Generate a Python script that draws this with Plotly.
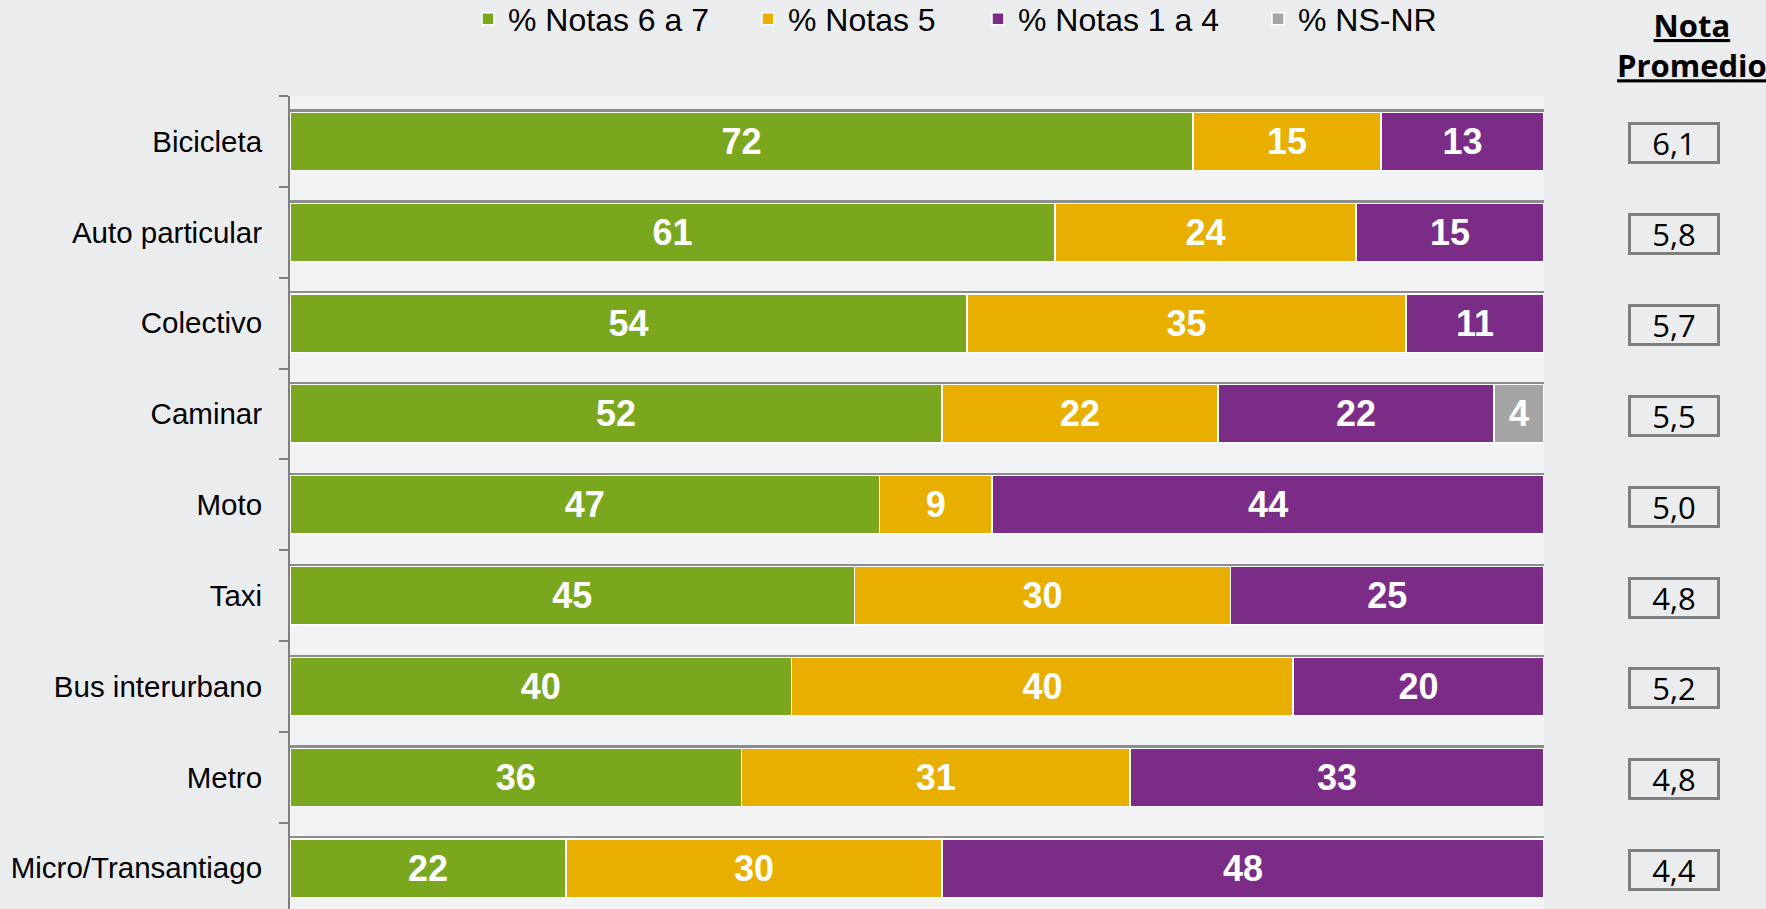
import plotly.graph_objects as go

categories = ["Bicicleta", "Auto particular", "Colectivo", "Caminar", "Moto",
              "Taxi", "Bus interurbano", "Metro", "Micro/Transantiago"]
notas_6_7 = [72, 61, 54, 52, 47, 45, 40, 36, 22]
notas_5 = [15, 24, 35, 22, 9, 30, 40, 31, 30]
notas_1_4 = [13, 15, 11, 22, 44, 25, 20, 33, 48]
ns_nr = [None, None, None, 4, None, None, None, None, None]
nota_promedio = ["6,1", "5,8", "5,7", "5,5", "5,0", "4,8", "5,2", "4,8", "4,4"]

series = [
    ("% Notas 6 a 7", notas_6_7, "#7BA71E"),
    ("% Notas 5", notas_5, "#E8AF00"),
    ("% Notas 1 a 4", notas_1_4, "#7B2C86"),
    ("% NS-NR", ns_nr, "#A5A5A5"),
]

W, H = 1766, 909
ml, mr, mt, mb = 290, 222, 96, 0
pw = W - ml - mr
ph = H - mt - mb
BAR_W = 0.645

# each legend entry gets its own legend box so the spacing matches
legend_left = [468, 748, 978, 1258]
legend_names = ["legend", "legend2", "legend3", "legend4"]

fig = go.Figure()

# soft drop shadow above each bar (drawn on an overlaid axis so it is not stacked)
totals = [sum(v or 0 for v in row) for row in zip(notas_6_7, notas_5, notas_1_4, ns_nr)]
shade = ["#8c8c8c", "#a3a3a3", "#bcbcbc", "#d3d3d3", "#e4e5e7"]
band = 0.025
for i, c in enumerate(shade):
    fig.add_bar(
        y=categories, x=totals, orientation="h", yaxis="y2",
        width=band, offset=-BAR_W / 2 - band * (i + 1) - 0.004,
        marker=dict(color=c, line=dict(width=0)),
        showlegend=False, hoverinfo="skip",
    )

for (name, vals, color), lg in zip(series, legend_names):
    fig.add_bar(
        y=categories, x=vals, name=name, orientation="h", legend=lg,
        marker=dict(color=color, line=dict(color="white", width=1.5)),
        texttemplate="<b>%{x}</b>", textposition="inside",
        insidetextanchor="middle", constraintext="none",
        textfont=dict(family="Liberation Sans, Arial", size=36, color="white"),
    )

# average-grade boxes on the right
for cat, nota in zip(categories, nota_promedio):
    fig.add_annotation(
        x=(1674 - ml) / pw, xref="paper", xanchor="center",
        y=cat, yref="y", yanchor="middle", yshift=-2,
        text=nota, showarrow=False, width=86, height=36, borderpad=0,
        bordercolor="#7F7F7F", borderwidth=3,
        font=dict(family="Open Sans", size=31, color="black"),
    )

fig.add_annotation(
    x=(1692 - ml) / pw, xref="paper", xanchor="center",
    y=(H - 45) / ph, yref="paper", yanchor="middle",
    text="<b><u>Nota</u></b><br><b><u>Promedio</u></b>", showarrow=False,
    font=dict(family="Open Sans", size=31, color="black"),
)

legend_style = dict(
    orientation="h", xanchor="left", yref="container",
    y=1 - 19 / H, yanchor="middle",
    font=dict(size=32), bgcolor="rgba(0,0,0,0)",
)
fig.update_layout(
    width=W, height=H,
    barmode="stack", bargap=1 - BAR_W,
    margin=dict(l=ml, r=mr, t=mt, b=mb),
    paper_bgcolor="#EBECEE", plot_bgcolor="#F2F3F5",
    font=dict(family="Liberation Sans, Arial", size=29.5, color="black"),
    showlegend=True,
)
for lg, left in zip(legend_names, legend_left):
    fig.update_layout({lg: dict(legend_style, x=(left - ml) / pw)})

fig.update_xaxes(range=[0, 100], visible=False)
fig.update_yaxes(
    range=[8.45, -0.5], showline=True, linecolor="#808080", linewidth=2,
    ticks="outside", ticklen=9, tickcolor="#808080", tickwidth=2,
    tickson="boundaries", showgrid=False, ticklabelstandoff=20,
)
fig.update_layout(yaxis2=dict(overlaying="y", range=[8.45, -0.5], visible=False,
                              categoryorder="array", categoryarray=categories))

fig.write_html("out.html", config={"displayModeBar": False},
               post_script="document.body.style.margin='0';")
